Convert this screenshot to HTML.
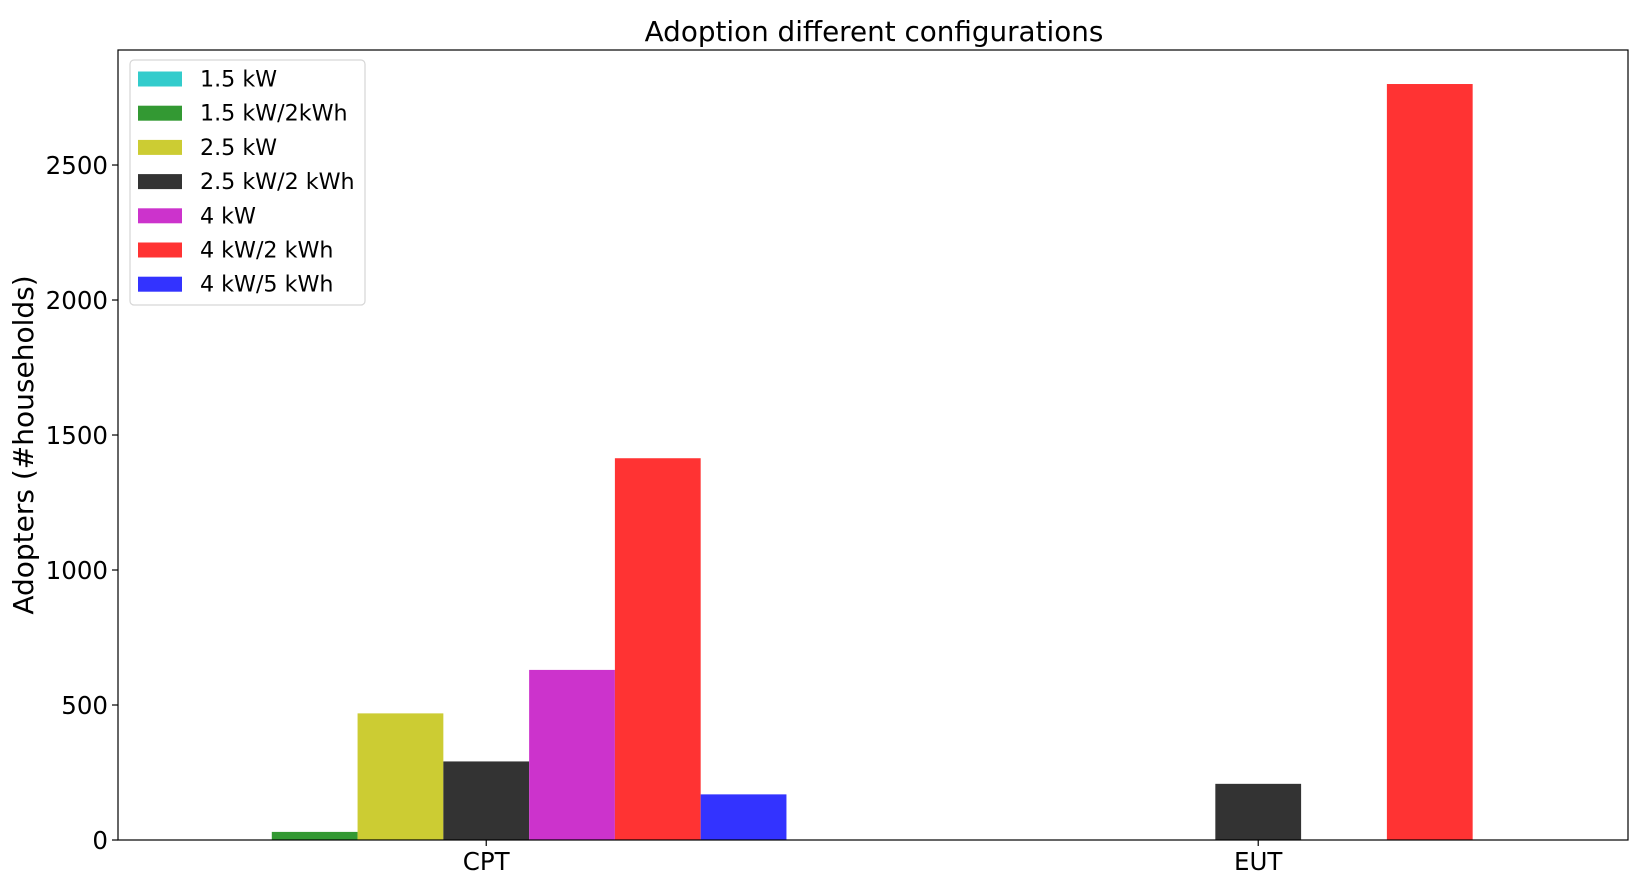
<!DOCTYPE html>
<html><head><meta charset="utf-8"><style>
html,body{margin:0;padding:0;background:#fff;}
svg{display:block;font-family:"DejaVu Sans","Liberation Sans",sans-serif;}
</style></head><body>
<svg id="chart" width="1652" height="879" viewBox="0 0 1652 879" xmlns="http://www.w3.org/2000/svg">
<rect x="0" y="0" width="1652" height="879" fill="#fff"/>
<text x="874" y="41" font-size="27.8" text-anchor="middle" fill="#000">Adoption different configurations</text>
<text x="0" y="0" font-size="28" text-anchor="middle" fill="#000" transform="translate(33,445) rotate(-90)">Adopters (#households)</text>
<g id="bars"></g>
<g id="yticks"></g>
<g id="xticks"></g>
<rect x="118" y="50" width="1510" height="790" fill="none" stroke="#000" stroke-width="1.2"/>
<g id="legend"></g>
</svg>
<script>
const categories = ["CPT", "EUT"];
const seriesNames = ["1.5 kW", "1.5 kW/2kWh", "2.5 kW", "2.5 kW/2 kWh", "4 kW", "4 kW/2 kWh", "4 kW/5 kWh"];
const seriesColors = ["#33cccc", "#339933", "#cccc33", "#333333", "#cc33cc", "#ff3333", "#3333ff"];
const cptValues = [0, 30, 469, 291, 630, 1414, 169];
const eutValues = [0, 0, 0, 208, 0, 2800, 0];
const yTicks = [0, 500, 1000, 1500, 2000, 2500];

const NS = "http://www.w3.org/2000/svg";
const L = 118, R = 1628, T = 50, B = 840;
const yMax = 2926, xMin = -0.477, xMax = 1.479;
const barW = 1 / 9;
function y(v) { return B - v / yMax * (B - T); }
function x(u) { return L + (u - xMin) / (xMax - xMin) * (R - L); }
function mk(tag, attrs) { const e = document.createElementNS(NS, tag); for (const k in attrs) e.setAttribute(k, attrs[k]); return e; }

const bars = document.getElementById('bars');
const groups = [cptValues, eutValues];
groups.forEach((vals, gi) => {
  vals.forEach((v, si) => {
    if (v <= 0) return;
    const c = gi + (si - 3) * barW;
    const r = mk('rect', {x: x(c - barW / 2), y: y(v), width: x(c + barW / 2) - x(c - barW / 2), height: y(0) - y(v), fill: seriesColors[si]});
    
    
    bars.appendChild(r);
  });
});

const yt = document.getElementById('yticks');
yTicks.forEach(t => {
  const ln = mk('line', {x1: L - 6, x2: L, y1: y(t), y2: y(t), stroke: '#000', 'stroke-width': 1.2});
  
  
  yt.appendChild(ln);
  const tx = mk('text', {x: L - 10, y: y(t) + 9, 'font-size': 24.5, 'text-anchor': 'end', fill: '#000'});
  tx.textContent = t;
  
  
  yt.appendChild(tx);
});

const xt = document.getElementById('xticks');
categories.forEach((c, i) => {
  const ln = mk('line', {x1: x(i), x2: x(i), y1: B, y2: B + 6, stroke: '#000', 'stroke-width': 1.2});
  
  
  xt.appendChild(ln);
  const tx = mk('text', {x: x(i), y: B + 30, 'font-size': 24.5, 'text-anchor': 'middle', fill: '#000'});
  tx.textContent = c;
  
  
  xt.appendChild(tx);
});

const lg = document.getElementById('legend');
const box = mk('rect', {x: 130, y: 60, width: 235, height: 245, rx: 4, fill: '#fff', stroke: '#d6d6d6', 'stroke-width': 1.2});


lg.appendChild(box);
seriesNames.forEach((n, i) => {
  const cy = 79 + i * 34.2;
  const sw = mk('rect', {x: 138, y: cy - 7.5, width: 44, height: 15, fill: seriesColors[i]});
  
  
  lg.appendChild(sw);
  const tx = mk('text', {x: 200, y: cy + 7.5, 'font-size': 22.2, fill: '#000'});
  tx.textContent = n;
  
  
  lg.appendChild(tx);
});
</script>
</body></html>
